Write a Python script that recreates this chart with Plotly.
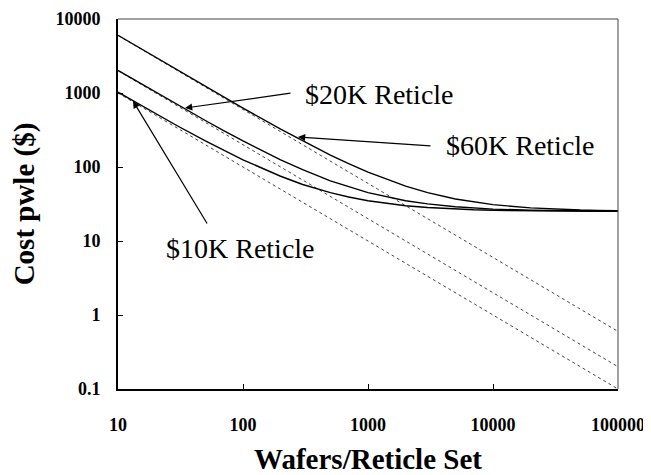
import plotly.graph_objects as go

# Wafers per reticle set (x) and cost per wafer-level-exposure (y)
wafers = [10, 20, 30, 50, 70, 100, 200, 300, 500, 700, 1000, 2000, 3000,
          5000, 7000, 10000, 20000, 30000, 50000, 70000, 100000]

total_60k = [6025, 3025, 2025, 1225, 882, 625, 325, 225, 145, 111, 85, 55, 45,
             37, 33.6, 31, 28, 27, 26.2, 25.9, 25.6]
total_20k = [2025, 1025, 692, 425, 311, 225, 125, 92, 65, 54, 45, 35, 31.7,
             29, 27.9, 27, 26, 25.7, 25.4, 25.3, 25.2]
total_10k = [1025, 525, 358, 225, 168, 125, 75, 58, 45, 39.3, 35, 30, 28.3,
             27, 26.4, 26, 25.5, 25.3, 25.2, 25.15, 25.1]

reticle_only_x = [10, 100000]
reticle_60k = [6000, 0.6]
reticle_20k = [2000, 0.2]
reticle_10k = [1000, 0.1]

x_ticks = [10, 100, 1000, 10000, 100000]
x_tick_text = ["10", "100", "1000", "10000", "100000"]
y_ticks = [0.1, 1, 10, 100, 1000, 10000]
y_tick_text = ["0.1", "1", "10", "100", "1000", "10000"]

x_minor = [m * 10 ** k for k in range(1, 5) for m in range(2, 10)]
y_minor = [m * 10.0 ** k for k in range(-1, 4) for m in range(2, 10)]

fig = go.Figure()
for ys in (reticle_60k, reticle_20k, reticle_10k):
    fig.add_trace(go.Scatter(x=reticle_only_x, y=ys, mode="lines",
                             line=dict(color="#444444", width=1, dash="dot"),
                             showlegend=False, hoverinfo="skip"))
for ys in (total_60k, total_20k, total_10k):
    fig.add_trace(go.Scatter(x=wafers, y=ys, mode="lines",
                             line=dict(color="black", width=1.4),
                             showlegend=False))

serif = "Liberation Serif, Times New Roman, serif"

axis_common = dict(
    type="log", showgrid=False, zeroline=False, automargin=False,
    showline=True, linecolor="black", linewidth=2,
    ticks="inside", ticklen=5, tickcolor="black", tickwidth=1,
    ticklabeloverflow="allow",
    tickfont=dict(family=serif, size=18, color="black", weight="bold"),
)
minor_common = dict(type="log", ticks="inside", ticklen=3, tickcolor="black",
                    tickwidth=1, showticklabels=False, showgrid=False,
                    showline=False, zeroline=False, automargin=False)

fig.update_layout(
    xaxis=dict(**axis_common, range=[1, 5], tickvals=x_ticks, ticktext=x_tick_text,
               ticklabelstandoff=18,
               title=dict(text="<b>Wafers/Reticle Set</b>",
                          font=dict(family=serif, size=29, color="black"),
                          standoff=30)),
    yaxis=dict(**axis_common, range=[-1, 4], tickvals=y_ticks, ticktext=y_tick_text,
               ticklabelstandoff=12,
               title=dict(text="<b>Cost pwle ($)</b>",
                          font=dict(family=serif, size=29, color="black"),
                          standoff=12)),
    xaxis2=dict(**minor_common, range=[1, 5], overlaying="x", anchor="y",
                side="bottom", tickvals=x_minor),
    yaxis2=dict(**minor_common, range=[-1, 4], overlaying="y", anchor="x",
                side="left", tickvals=y_minor),
)

# thin top and right border
fig.add_shape(type="line", xref="paper", yref="paper", x0=0, x1=1, y0=1, y1=1,
              line=dict(color="#444444", width=1))
fig.add_shape(type="line", xref="paper", yref="paper", x0=1, x1=1, y0=0, y1=1,
              line=dict(color="#444444", width=1))

label_font = dict(family=serif, size=28, color="black")
labels = [
    ("$20K Reticle", 3.088, 2.986),
    ("$60K Reticle", 4.216, 2.284),
    ("$10K Reticle", 1.98, 0.90),
]
for txt, lx, ly in labels:
    fig.add_annotation(x=lx, y=ly, xref="x", yref="y", text=txt, showarrow=False,
                       font=label_font, xanchor="center", yanchor="middle")

arrows = [
    (1.536, 2.797, 2.392, 3.0),
    (2.44, 2.405, 3.512, 2.284),
    (1.12, 2.892, 1.72, 1.216),
]
for hx, hy, tx, ty in arrows:
    fig.add_annotation(x=hx, y=hy, ax=tx, ay=ty, xref="x", yref="y",
                       axref="x", ayref="y", text="", showarrow=True,
                       arrowhead=2, arrowsize=1.2, arrowwidth=1.2,
                       arrowcolor="black")

# the page body keeps an 8px default margin, so the figure is 8px smaller each way
fig.update_layout(width=643, height=467, margin=dict(l=110, r=33, t=11, b=86),
                  plot_bgcolor="white", paper_bgcolor="white")

fig.write_html("out.html")
